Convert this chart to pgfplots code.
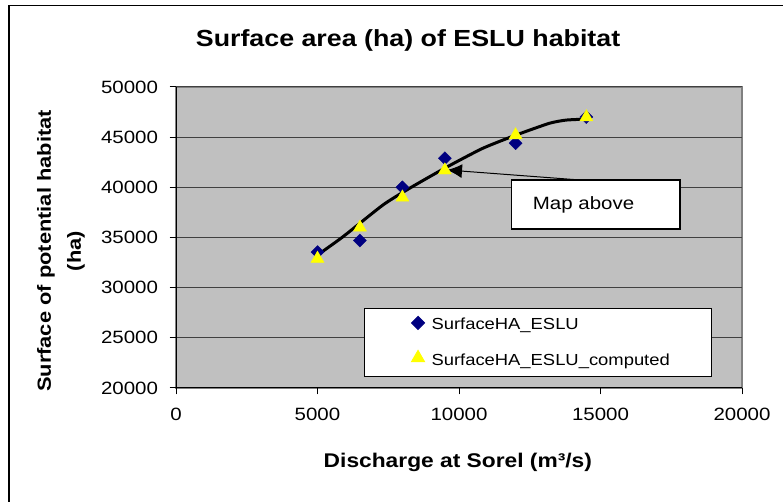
\documentclass[border=0pt]{standalone}
\usepackage{fontspec}
\setmainfont{Liberation Sans}[FakeStretch=1.15]
\usepackage{pgfplots}
\pgfplotsset{compat=1.18}
\usetikzlibrary{arrows.meta}
\definecolor{plotgray}{HTML}{C0C0C0}
\definecolor{navyc}{HTML}{000080}
\definecolor{yellowc}{HTML}{FFFF00}
\begin{document}
\begin{tikzpicture}[x=1bp,y=1bp]
\path[use as bounding box] (0,0) rectangle (783,502);
\draw[line width=1.5bp] (9,0) -- (9,496.5) -- (783,496.5);
\begin{axis}[
  at={(176bp,114bp)}, anchor=south west,
  scale only axis, width=566bp, height=301bp,
  xmin=0, xmax=20000, ymin=20000, ymax=50000,
  xtick={0,5000,...,20000}, ytick={20000,25000,...,50000},
  scaled ticks=false,
  /pgf/number format/assume math mode=true,
  /pgf/number format/1000 sep={},
  tick label style={font=\fontsize{17.8bp}{20bp}\selectfont, text=black},
  xticklabel style={yshift=-10bp},
  yticklabel style={xshift=-8bp},
  axis x line*=bottom, axis y line*=left,
  axis line style={black, line width=1bp},
  tick style={black, line width=1bp},
  tick align=outside, major tick length=6.5bp,
  ymajorgrids, grid style={black!75, line width=1bp},
  axis background/.style={fill=plotgray, draw=gray, line width=1.2bp},
  every axis title shift=0pt,
  title={Surface area (ha) of ESLU habitat},
  title style={at={(axis description cs:0.41,1.133)}, anchor=base, inner sep=0pt,
    font=\bfseries\fontsize{23.3bp}{26bp}\selectfont},
  xlabel={Discharge at Sorel (m³/s)},
  xlabel style={at={(axis description cs:0.498,-0.2625)}, anchor=base, inner sep=0pt,
    font=\bfseries\fontsize{19.8bp}{22bp}\selectfont},
  ylabel={Surface of potential habitat\\(ha)},
  ylabel style={at={(axis description cs:-0.2032,0.455)}, anchor=center, align=center, inner sep=0pt,
    font=\bfseries\fontsize{19bp}{30bp}\selectfont},
  legend cell align=left,
  legend image code/.code={\path (-53bp,0) (8bp,0); \draw[#1] plot coordinates {(0bp,2bp)};},
  legend style={at={(axis description cs:0.3322,0.0365)}, anchor=south west,
    draw=black, line width=1bp, fill=white, inner xsep=0pt, inner ysep=8bp,
    column sep=3bp, row sep=17bp,
    font=\fontsize{16bp}{19bp}\selectfont},
]
\addplot[only marks, mark=square*, mark size=4.6bp,
  mark options={rotate=45, fill=navyc, draw=navyc}] coordinates {
  (5000,33550) (6500,34700) (8000,40000) (9500,42900) (12000,44400) (14500,47000)};
\addlegendentry{\makebox[278bp][l]{SurfaceHA\_ESLU}}
\addplot[only marks, mark=triangle*, mark size=7.5bp,
  mark options={fill=yellowc, draw=yellowc}] coordinates {
  (5000,32900) (6500,36000) (8000,39000) (9500,41700) (12000,45200) (14500,47000)};
\addlegendentry{\makebox[278bp][l]{SurfaceHA\_ESLU\_computed}}
\addplot[black, line width=3bp, smooth, tension=0.35, forget plot] coordinates {
  (5000,33250) (5900,35075) (7310,38235) (8250,39900) (9550,41990)
  (10840,43890) (12020,45215) (13190,46380) (13780,46700) (14490,46800)};
\draw[black, line width=1bp, -{Latex[length=15bp,width=14bp]}]
  (axis cs:14276,40731) -- (axis cs:9576,41728);
\draw[black, line width=1.5bp, fill=white]
  (axis cs:11862,40731) rectangle (axis cs:17809,35847);
\node[anchor=base west, inner sep=0pt, font=\fontsize{17.8bp}{20bp}\selectfont]
  at (axis cs:12604,37741) {Map above};
\end{axis}
\end{tikzpicture}
\end{document}
